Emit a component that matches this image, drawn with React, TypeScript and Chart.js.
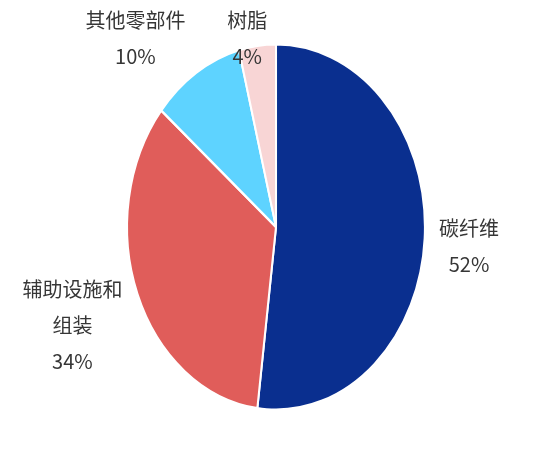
import { useEffect, useRef } from 'react'
import { Chart, registerables } from 'chart.js'
import type { Plugin } from 'chart.js'

Chart.register(...registerables)

const categories = ['碳纤维', '辅助设施和\n组装', '其他零部件', '树脂']
const shares = [52, 34, 10, 4]
const colors = ['#0a2f8f', '#e05d5a', '#5ed3ff', '#f8d5d5']

// the source pie is squeezed sideways into an ellipse
const squeezeX = 0.815
// label placement: distance as a multiple of the radius, and a small turn in degrees
const labelReach = [1.3, 1.47, 1.4, 1.05]
const labelTurn = [1, 0, -10, -3.4]

const ellipsePie: Plugin<'pie'> = {
  id: 'ellipsePie',
  beforeDatasetsDraw(chart) {
    const { ctx, chartArea } = chart
    const cx = (chartArea.left + chartArea.right) / 2
    ctx.save()
    ctx.translate(cx, 0)
    ctx.scale(squeezeX, 1)
    ctx.translate(-cx, 0)
  },
  afterDatasetsDraw(chart) {
    const { ctx } = chart
    ctx.restore()

    const meta = chart.getDatasetMeta(0)
    ctx.save()
    ctx.font = "20px 'Noto Sans CJK SC', sans-serif"
    ctx.fillStyle = '#363636'
    ctx.textAlign = 'center'
    ctx.textBaseline = 'middle'
    meta.data.forEach((el, i) => {
      const arc = el as any
      const mid = (arc.startAngle + arc.endAngle) / 2 + (labelTurn[i] * Math.PI) / 180
      const r = arc.outerRadius * labelReach[i]
      const x = arc.x + Math.cos(mid) * r * squeezeX
      const y = arc.y + Math.sin(mid) * r
      const lines = [...categories[i].split('\n'), `${shares[i]}%`]
      const lh = 36
      const top = y - ((lines.length - 1) * lh) / 2
      lines.forEach((t, j) => ctx.fillText(t, x, top + j * lh))
    })
    ctx.restore()
  },
}

export default function App() {
  const canvasRef = useRef<HTMLCanvasElement>(null)
  const chartRef = useRef<Chart<'pie'> | null>(null)

  useEffect(() => {
    if (!canvasRef.current) return
    chartRef.current?.destroy()

    chartRef.current = new Chart(canvasRef.current, {
      type: 'pie',
      data: {
        labels: categories,
        datasets: [{
          data: shares,
          backgroundColor: colors,
          borderColor: '#ffffff',
          borderWidth: 2.5,
        }],
      },
      options: {
        responsive: true,
        maintainAspectRatio: false,
        animation: false,
        layout: { padding: { left: 92, right: 100, top: 43, bottom: 41 } },
        plugins: {
          legend: { display: false },
          tooltip: { enabled: false },
        },
      },
      plugins: [ellipsePie],
    })

    return () => { chartRef.current?.destroy() }
  }, [])

  return (
    <div style={{ position: 'absolute', left: 0, top: 0, width: 560, height: 452, background: '#fff' }}>
      <canvas ref={canvasRef} />
    </div>
  )
}
